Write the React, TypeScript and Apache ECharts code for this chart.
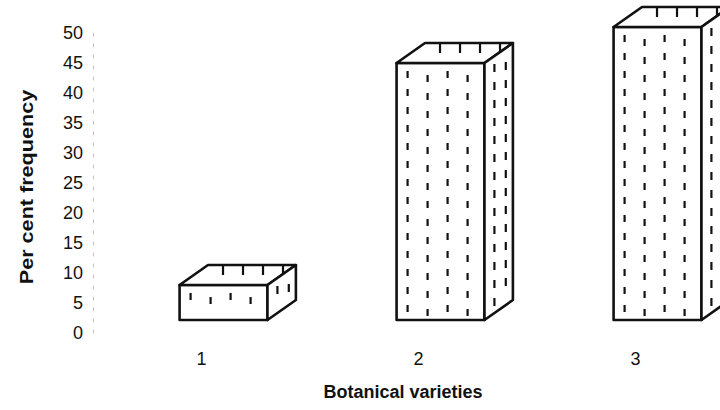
import React, { useEffect, useRef } from "react";
import * as echarts from "echarts";

const CATEGORIES = ["1", "2", "3"];
const VALUES = [8, 45, 51];
const Y_MIN = 0;
const Y_MAX = 50;
const Y_STEP = 5;
const X_TITLE = "Botanical varieties";
const Y_TITLE = "Per cent frequency";

const FONT = '"Liberation Sans", Arial, Helvetica, sans-serif';
const INK = "#111";

function dash(x: number, y: number, len: number) {
  return {
    type: "line",
    shape: { x1: x, y1: y, x2: x, y2: y + len },
    style: { stroke: INK, lineWidth: 2.2, lineCap: "butt" },
  };
}

function renderBox(params: any, api: any) {
  const i = api.value(0);
  const v = api.value(1);
  const base = api.coord([i, 0]);
  const cx = base[0];
  const yTop = api.coord([i, v])[1];
  const band = api.size([1, 0])[0];
  const w = band * 0.405;
  const x0 = cx - band * 0.101;
  const x1 = x0 + w;
  const yb = base[1] - 13;
  const dx = band * 0.131;
  const dy = 20;
  const faceStyle = { fill: "#fff", stroke: INK, lineWidth: 2.6, lineJoin: "round" };
  const children: any[] = [];
  // front face
  children.push({
    type: "rect",
    shape: { x: x0, y: yTop, width: w, height: yb - yTop },
    style: faceStyle,
  });
  // top face
  children.push({
    type: "polygon",
    shape: { points: [[x0, yTop], [x1, yTop], [x1 + dx, yTop - dy], [x0 + dx, yTop - dy]] },
    style: faceStyle,
  });
  // side face
  children.push({
    type: "polygon",
    shape: { points: [[x1, yTop], [x1 + dx, yTop - dy], [x1 + dx, yb - dy], [x1, yb]] },
    style: faceStyle,
  });
  // front dashes
  let col = 0;
  for (let x = x0 + 11; x < x1 - 6; x += 20, col++) {
    const off = col % 2 === 0 ? 0 : 4;
    for (let y = yTop + 8 + off; y + 7 < yb - 3; y += 18) {
      children.push(dash(x, y, 7));
    }
  }
  // top dashes hanging from the back edge
  for (let u = 15; u < w - 4; u += 20) {
    children.push(dash(x0 + dx + u, yTop - dy + 1, 9));
  }
  // side dashes
  const sideCols = [0.35, 0.75];
  sideCols.forEach((f, k) => {
    const sx = x1 + dx * f;
    const top = yTop - dy * f;
    const bot = yb - dy * f;
    for (let y = top + 8 + k * 6; y + 8 < bot - 3; y += 18) {
      children.push(dash(sx, y, 8));
    }
  });
  return { type: "group", children };
}

export default function App() {
  const ref = useRef<HTMLDivElement>(null);
  useEffect(() => {
    if (!ref.current) return;
    const chart = echarts.init(ref.current, undefined, { renderer: "svg" });
    chart.setOption({
      animation: false,
      backgroundColor: "#fff",
      grid: {
        left: 93,
        width: 651,
        top: 33,
        height: 300,
        containLabel: false,
        outerBoundsMode: "none",
      },
      xAxis: {
        type: "category",
        data: CATEGORIES,
        boundaryGap: true,
        axisLine: { show: false },
        axisTick: { show: false },
        axisLabel: {
          margin: 17,
          fontSize: 18,
          fontFamily: FONT,
          color: INK,
        },
        splitLine: { show: false },
      },
      yAxis: {
        type: "value",
        min: Y_MIN,
        max: Y_MAX,
        interval: Y_STEP,
        axisLine: { show: true, lineStyle: { color: "#c4c4c4", width: 1, type: [3, 8] } },
        axisTick: { show: false },
        splitLine: { show: false },
        axisLabel: {
          margin: 10,
          fontSize: 18,
          fontFamily: FONT,
          color: INK,
        },
      },
      graphic: [
        {
          type: "text",
          x: 27,
          y: 187,
          rotation: Math.PI / 2,
          scaleX: 1.2,
          style: {
            text: Y_TITLE,
            font: `bold 18px ${FONT}`,
            fill: INK,
            align: "center",
            verticalAlign: "middle",
          },
        },
        {
          type: "text",
          x: 403,
          y: 392,
          style: {
            text: X_TITLE,
            font: `bold 18px ${FONT}`,
            fill: INK,
            align: "center",
            verticalAlign: "middle",
          },
        },
      ],
      series: [
        {
          type: "custom",
          renderItem: renderBox,
          clip: false,
          data: VALUES.map((v, i) => [i, v]),
        },
      ],
    });
    return () => chart.dispose();
  }, []);
  return (
    <div
      ref={ref}
      style={{ position: "fixed", left: 0, top: 0, width: 720, height: 410 }}
    />
  );
}
